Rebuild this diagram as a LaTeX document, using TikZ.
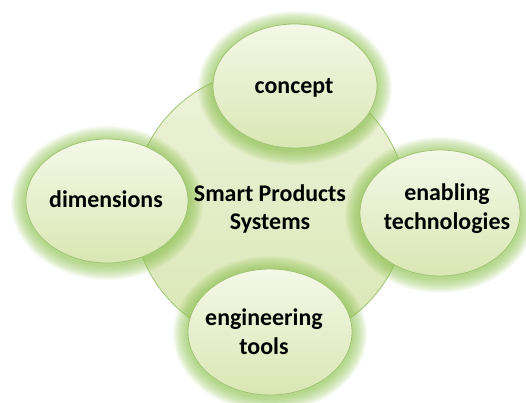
\documentclass[tikz,border=0pt]{standalone}
\usepackage{fontspec}
\setmainfont{Carlito}
\definecolor{glowc}{HTML}{8DC24F}
\definecolor{rimc}{HTML}{A0C473}
\definecolor{topc}{HTML}{F4F8E8}
\definecolor{botc}{HTML}{D9E7B3}
\definecolor{hubtop}{HTML}{EDF3DA}
\definecolor{hubbot}{HTML}{D9E7B4}
\tikzset{
  bubble/.style={draw=rimc, line width=0.8bp, top color=topc, bottom color=botc},
  hub/.style={draw=rimc, line width=0.8bp, top color=hubtop, bottom color=hubbot},
  label/.style={align=center, inner sep=0pt, text=black, font=\fontsize{24}{29}\selectfont\bfseries},
}
\newcommand\glowring[3]{%
  \foreach \i in {1,...,15}{%
    \fill[glowc, opacity=0.065] ([yshift=-2bp]#1) ellipse [x radius={#2bp+\i bp}, y radius={#3bp+\i bp}];}}
\begin{document}
\begin{tikzpicture}[x=1bp, y=1bp]
\useasboundingbox (0,0) rectangle (526,402);
\coordinate (hubc) at (270,195);
\coordinate (conc) at (295,316);
\coordinate (dimc) at (107,201);
\coordinate (enac) at (440,189);
\coordinate (engc) at (270,70);
% central circle
\path[hub] (hubc) circle [radius=137bp];
% glows
\glowring{conc}{82}{62}
\glowring{dimc}{81}{62}
\glowring{enac}{80}{63}
\glowring{engc}{82}{63}
% bubbles
\path[bubble] (conc) ellipse [x radius=82bp, y radius=62bp];
\path[bubble] (dimc) ellipse [x radius=81bp, y radius=62bp];
\path[bubble] (enac) ellipse [x radius=80bp, y radius=63bp];
\path[bubble] (engc) ellipse [x radius=82bp, y radius=63bp];
% texts
\node[label] (hubt) at (270,193) {Smart Products\\Systems};
\node[label] (cont) at (294,314) {concept};
\node[label] (dimt) at (106,203) {dimensions};
\node[label] (enat) at (447,193) {enabling\\technologies};
\node[label] (engt) at (264,70) {engineering\\tools};
\end{tikzpicture}
\end{document}
